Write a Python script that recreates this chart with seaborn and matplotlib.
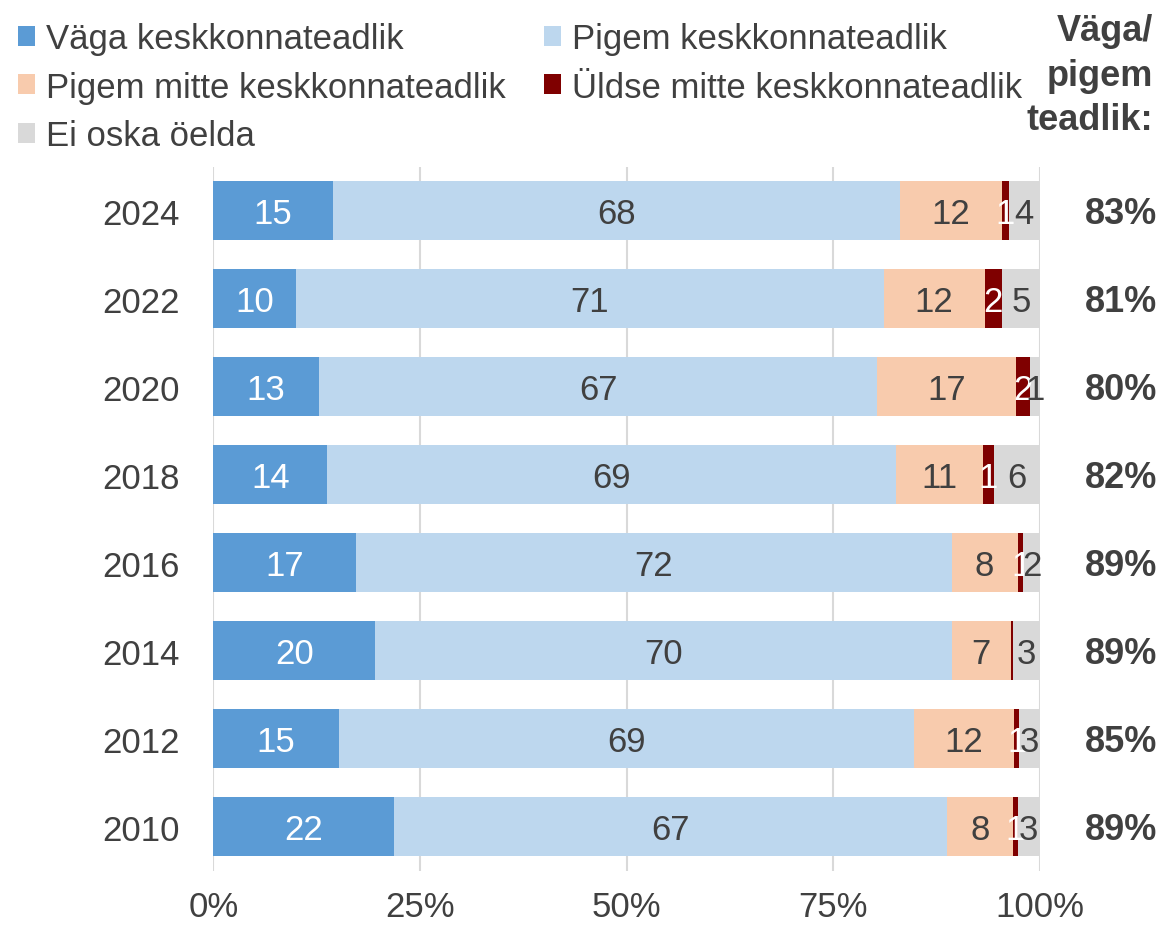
import numpy as np
import matplotlib
matplotlib.use("Agg")
import matplotlib.pyplot as plt
from matplotlib.patches import Patch
import seaborn as sns

# data (bar shares in %, shown labels are rounded)
years = ["2024", "2022", "2020", "2018", "2016", "2014", "2012", "2010"]
vaga = [14.5, 10.0, 12.8, 13.8, 17.3, 19.6, 15.2, 21.8]
pigem = [68.6, 71.1, 67.5, 68.8, 72.0, 69.7, 69.5, 67.0]
pigem_mitte = [12.3, 12.2, 16.8, 10.5, 8.0, 7.2, 12.2, 7.9]
uldse_mitte = [0.8, 2.1, 1.7, 1.3, 0.7, 0.2, 0.6, 0.6]
ei_oska = [3.8, 4.6, 1.2, 5.6, 2.0, 3.3, 2.5, 2.7]

vaga_lbl = [15, 10, 13, 14, 17, 20, 15, 22]
pigem_lbl = [68, 71, 67, 69, 72, 70, 69, 67]
pigem_mitte_lbl = [12, 12, 17, 11, 8, 7, 12, 8]
uldse_mitte_lbl = [1, 2, 2, 1, 1, None, 1, 1]
ei_oska_lbl = [4, 5, 1, 6, 2, 3, 3, 3]

teadlik = ["83%", "81%", "80%", "82%", "89%", "89%", "85%", "89%"]

names = ["Väga keskkonnateadlik", "Pigem keskkonnateadlik",
         "Pigem mitte keskkonnateadlik", "Üldse mitte keskkonnateadlik",
         "Ei oska öelda"]
colors = ["#5B9BD5", "#BDD7EE", "#F8CBAD", "#7F0000", "#D9D9D9"]
txt_colors = ["white", "#404040", "#404040", "white", "#404040"]

series = [vaga, pigem, pigem_mitte, uldse_mitte, ei_oska]
labels = [vaga_lbl, pigem_lbl, pigem_mitte_lbl, uldse_mitte_lbl, ei_oska_lbl]

sns.set_style("white")
plt.rcParams["font.family"] = ["Liberation Sans", "DejaVu Sans"]
TXT = "#404040"

fig = plt.figure(figsize=(11.62, 9.29), dpi=100)
ax = fig.add_axes([213.3 / 1162, 1 - 872 / 929, 826.7 / 1162, 704.5 / 929])

vals = np.array(series)
cum = np.cumsum(vals, axis=0)

# stacked bars: draw cumulative totals from the end backwards
for i in range(len(series) - 1, -1, -1):
    sns.barplot(x=cum[i], y=years, order=years, color=colors[i], orient="h",
                width=0.67, saturation=1, linewidth=0, ax=ax)

# segment labels
for i in range(len(series)):
    left = cum[i] - vals[i]
    for j, y in enumerate(years):
        lab = labels[i][j]
        if lab is None:
            continue
        ax.text(left[j] + vals[i][j] / 2, j + 0.03, str(lab), ha="center",
                va="center", color=txt_colors[i], fontsize=25)

# totals on the right
for j, t in enumerate(teadlik):
    ax.text(1.1415, j + 0.03, t, transform=ax.get_yaxis_transform(), ha="right",
            va="center", fontsize=26, fontweight="bold", color=TXT, clip_on=False)

ax.set_xlim(0, 100)
ax.set_xticks([0, 25, 50, 75, 100])
ax.set_xticklabels(["0%", "25%", "50%", "75%", "100%"])
ax.set_xlabel("")
ax.set_ylabel("")
ax.grid(axis="x", color="#D9D9D9", linewidth=1.5)
ax.grid(axis="y", visible=False)
ax.set_axisbelow(True)
for s in ax.spines.values():
    s.set_visible(False)
ax.tick_params(axis="y", length=0, pad=24, labelsize=25, labelcolor=TXT)
ax.tick_params(axis="x", length=0, pad=14, labelsize=25, labelcolor=TXT)

# header over the totals
fig.text(1153 / 1162, 1 - 14 / 929, "Väga/\npigem\nteadlik:", ha="right", va="top",
         fontsize=26, fontweight="bold", color=TXT, linespacing=1.36)

# legend, filled column-wise
handles = [Patch(facecolor=c, edgecolor="none") for c in colors]
order = [0, 2, 4, 1, 3]
fig.legend([handles[k] for k in order], [names[k] for k in order],
           loc="upper left", bbox_to_anchor=(18 / 1162, 1 - 23 / 929), ncol=2,
           frameon=False, fontsize=25, labelcolor=TXT, handlelength=0.5,
           handleheight=0.5, handletextpad=0.3, columnspacing=1.1,
           labelspacing=0.45, borderpad=0, borderaxespad=0)

fig.savefig("out.png", dpi=100)
